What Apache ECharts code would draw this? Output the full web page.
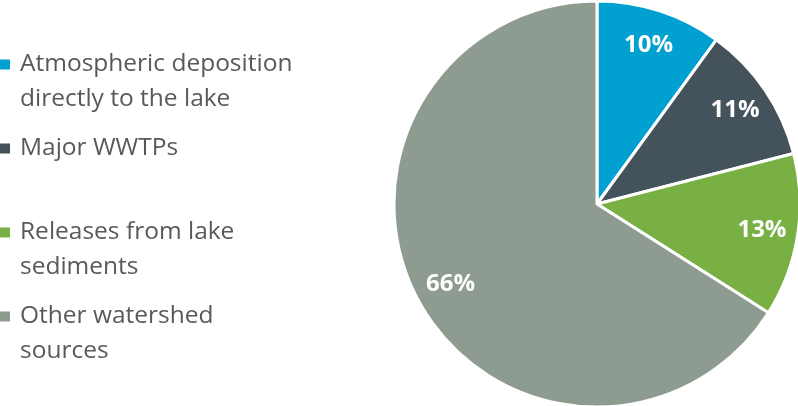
<!DOCTYPE html>
<html>
<head>
<meta charset="utf-8">
<script src="https://cdn.jsdelivr.net/npm/echarts@6/dist/echarts.min.js"></script>
<style>
  html, body { margin: 0; padding: 0; background: #ffffff; }
  #chart { width: 798px; height: 406px; }
</style>
</head>
<body>
<div id="chart"></div>
<script>
// Phosphorus load sources, share of total (%)
const categories = [
  'Atmospheric deposition directly to the lake',
  'Major WWTPs',
  'Releases from lake sediments',
  'Other watershed sources'
];
const legendLines = [
  ['Atmospheric deposition', 'directly to the lake'],
  ['Major WWTPs', ''],
  ['Releases from lake', 'sediments'],
  ['Other watershed', 'sources']
];
const shares = [10, 11, 13, 66];
const colors = ['#00a0d1', '#44525c', '#78b043', '#8e9b90'];

const chart = echarts.init(document.getElementById('chart'), null, { renderer: 'canvas' });

const center = [597, 204];
const outerR = 203;

chart.setOption({
  animation: false,
  color: colors,
  legend: {
    orient: 'vertical',
    left: 0,
    top: 12,
    padding: 0,
    data: categories,
    icon: 'rect',
    itemWidth: 10,
    itemHeight: 10,
    itemGap: -21,
    selectedMode: false,
    itemStyle: { borderWidth: 0 },
    // a blank leading line keeps the marker level with the first text line
    formatter: function (name) {
      const i = categories.indexOf(name);
      return ' \n' + legendLines[i][0] + '\n' + (legendLines[i][1] || ' ');
    },
    textStyle: {
      fontFamily: 'Open Sans',
      fontSize: 24.5,
      color: '#595959',
      lineHeight: 35,
      padding: [0, 0, 0, 5]
    }
  },
  series: [
    {
      name: 'Sources',
      type: 'pie',
      center: center,
      radius: [0, outerR],
      startAngle: 90,
      clockwise: true,
      silent: true,
      data: categories.map((name, i) => ({
        name: name,
        value: shares[i],
        itemStyle: { color: colors[i] }
      })),
      itemStyle: { borderColor: '#ffffff', borderWidth: 3 },
      label: { show: false },
      labelLine: { show: false },
      emphasis: { disabled: true }
    },
    {
      // transparent ring that places the percentage labels
      name: 'Labels',
      type: 'pie',
      center: center,
      radius: [126, 202],
      startAngle: 90,
      clockwise: true,
      silent: true,
      data: categories.map((name, i) => ({
        name: name,
        value: shares[i],
        itemStyle: { color: 'rgba(0,0,0,0)' }
      })),
      itemStyle: { borderWidth: 0 },
      label: {
        show: true,
        position: 'inside',
        formatter: '{c}%',
        color: '#ffffff',
        fontFamily: 'Open Sans',
        fontWeight: 'bold',
        fontSize: 24
      },
      labelLine: { show: false },
      emphasis: { disabled: true }
    }
  ]
});
</script>
</body>
</html>
